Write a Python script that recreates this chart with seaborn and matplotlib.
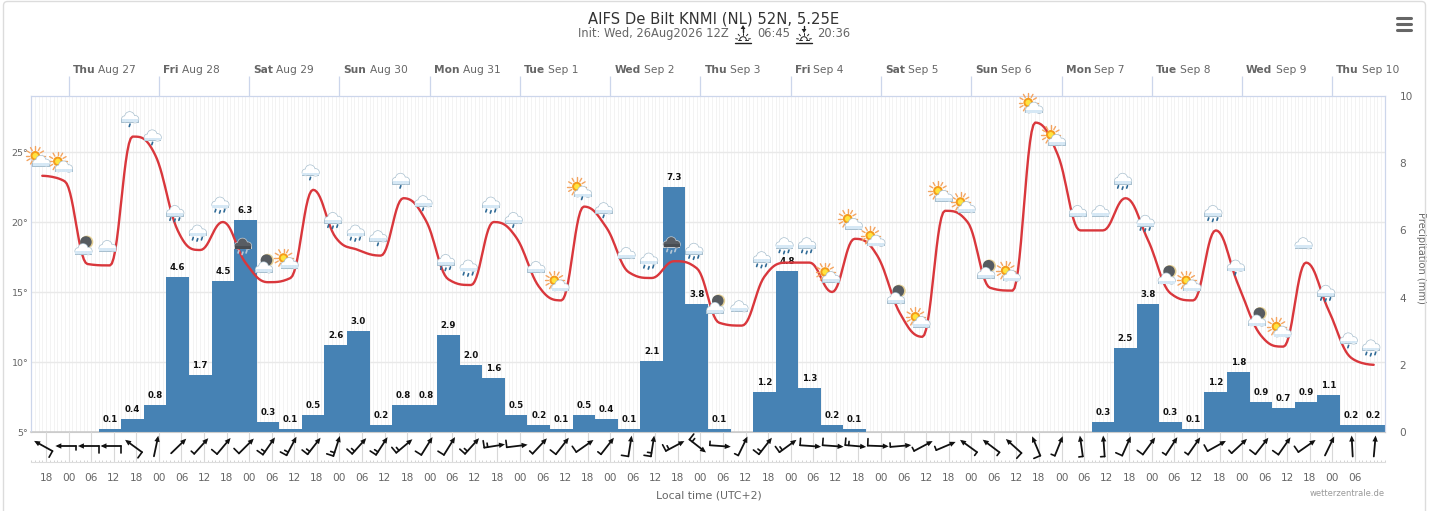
#!/usr/bin/env python3
"""
Meteogram: temperature spline, precipitation bars, sky icons and wind arrows.
"""

import numpy as np
import matplotlib
matplotlib.use("Agg")
import matplotlib.pyplot as plt
import seaborn as sns
from matplotlib.patches import Circle, FancyBboxPatch, Polygon, Rectangle, Wedge
from matplotlib.transforms import IdentityTransform

WIDTH, HEIGHT = 1433, 511

# hours since Aug 26 00:00 local time
hours = list(range(17, 372, 6))

temperature = [
    23.3, 22.9, 17.0, 16.9, 26.1, 24.8, 19.4, 18.0, 20.0, 17.1,
    15.7, 16.0, 22.3, 18.9, 18.0, 17.6, 21.7, 20.1, 15.9, 15.5,
    20.0, 18.9, 15.4, 14.4, 21.1, 19.6, 16.4, 16.0, 17.2, 16.7,
    12.8, 12.6, 16.1, 17.1, 17.1, 15.0, 18.8, 17.6, 13.5, 11.8,
    20.8, 20.0, 15.3, 15.1, 27.1, 24.8, 19.4, 19.4, 21.7, 18.7,
    14.9, 14.4, 19.4, 15.5, 11.9, 11.1, 17.1, 13.7, 10.3, 9.8,
]

precipitation = [
    0, 0, 0, 0.1, 0.4, 0.8, 4.6, 1.7, 4.5, 6.3,
    0.3, 0.1, 0.5, 2.6, 3.0, 0.2, 0.8, 0.8, 2.9, 2.0,
    1.6, 0.5, 0.2, 0.1, 0.5, 0.4, 0.1, 2.1, 7.3, 3.8,
    0.1, 0, 1.2, 4.8, 1.3, 0.2, 0.1, 0, 0, 0,
    0, 0, 0, 0, 0, 0, 0, 0.3, 2.5, 3.8,
    0.3, 0.1, 1.2, 1.8, 0.9, 0.7, 0.9, 1.1, 0.2, 0.2,
]

sky = [
    "sun", "sun", "moon", "cloud", "drizzle", "drizzle", "rain", "rain", "rain", "storm",
    "moon", "sun", "drizzle", "rain", "rain", "drizzle", "drizzle", "drizzle", "rain", "rain",
    "rain", "drizzle", "cloud", "sun", "sunrain", "drizzle", "cloud", "rain", "storm", "rain",
    "moon", "cloud", "rain", "rain", "rain", "sun", "sun", "sun", "moon", "sun",
    "sun", "sun", "moon", "sun", "sun", "sun", "cloud", "cloud", "rain", "rain",
    "moon", "sun", "rain", "drizzle", "moon", "sun", "cloud", "rain", "drizzle", "rain",
]

# direction the arrow points, degrees clockwise from north
wind_heading = [
    299, 270, 270, 270, 306, 12, 46, 42, 40, 45,
    35, 28, 38, 18, 42, 33, 50, 32, 32, 42,
    81, 83, 43, 38, 55, 38, 9, 9, 62, 128,
    94, 26, 38, 54, 94, 94, 95, 92, 85, 62,
    67, 306, 307, 312, 337, 22, 352, 356, 24, 36,
    33, 35, 61, 47, 38, 35, 55, 26, 357, 5,
]

# 0 none, 1 short, 2 long, 3 long + short, 4 two long
wind_feathers = [
    2, 1, 2, 2, 2, 0, 0, 1, 2, 2,
    3, 3, 3, 3, 3, 3, 3, 2, 2, 3,
    3, 2, 1, 2, 2, 1, 2, 3, 3, 3,
    1, 1, 3, 3, 2, 2, 3, 2, 1, 1,
    1, 1, 1, 2, 2, 1, 1, 1, 2, 2,
    1, 1, 2, 1, 2, 2, 2, 0, 0, 0,
]

day_names = ["Thu", "Fri", "Sat", "Sun", "Mon", "Tue", "Wed", "Thu", "Fri", "Sat", "Sun", "Mon", "Tue", "Wed", "Thu"]
day_dates = ["Aug 27", "Aug 28", "Aug 29", "Aug 30", "Aug 31", "Sep 1", "Sep 2", "Sep 3", "Sep 4",
             "Sep 5", "Sep 6", "Sep 7", "Sep 8", "Sep 9", "Sep 10"]
temp_ticks = [5, 10, 15, 20, 25]
precip_ticks = [0, 2, 4, 6, 8, 10]

TEXT_GREY = "#666666"
GRID = "#e9e9e9"
AXIS = "#ccd6eb"
BAR_BLUE = "#4682b4"
LINE_RED = "#d9373c"


def spline_curve(xs, ys, steps=14):
    """Bezier spline through the points, same control points as a Highcharts spline."""
    n = len(xs)
    left, right = [None] * n, [None] * n
    for i in range(n):
        if i == 0 or i == n - 1:
            left[i] = right[i] = (xs[i], ys[i])
            continue
        lx, ly = (1.5 * xs[i] + xs[i - 1]) / 2.5, (1.5 * ys[i] + ys[i - 1]) / 2.5
        rx, ry = (1.5 * xs[i] + xs[i + 1]) / 2.5, (1.5 * ys[i] + ys[i + 1]) / 2.5
        correction = (ry - ly) * (rx - xs[i]) / (rx - lx) + ys[i] - ry
        ly += correction
        ry += correction
        # keep the curve from overshooting its neighbours
        if ly > ys[i - 1] and ly > ys[i]:
            ly = max(ys[i - 1], ys[i])
            ry = 2 * ys[i] - ly
        elif ly < ys[i - 1] and ly < ys[i]:
            ly = min(ys[i - 1], ys[i])
            ry = 2 * ys[i] - ly
        if ry > ys[i + 1] and ry > ys[i]:
            ry = max(ys[i + 1], ys[i])
            ly = 2 * ys[i] - ry
        elif ry < ys[i + 1] and ry < ys[i]:
            ry = min(ys[i + 1], ys[i])
            ly = 2 * ys[i] - ry
        left[i], right[i] = (lx, ly), (rx, ry)

    out_x, out_y = [], []
    t = np.linspace(0, 1, steps, endpoint=False)
    for i in range(n - 1):
        p0, p1, p2, p3 = (xs[i], ys[i]), right[i], left[i + 1], (xs[i + 1], ys[i + 1])
        for axis, out in ((0, out_x), (1, out_y)):
            out.extend((1 - t) ** 3 * p0[axis] + 3 * (1 - t) ** 2 * t * p1[axis]
                       + 3 * (1 - t) * t ** 2 * p2[axis] + t ** 3 * p3[axis])
    out_x.append(xs[-1])
    out_y.append(ys[-1])
    return out_x, out_y


def px_circle(ax, x, y, r, color, z=6):
    ax.add_patch(Circle((x, y), r, facecolor=color, edgecolor="none",
                        transform=IdentityTransform(), clip_on=False, zorder=z))


def px_line(ax, xs, ys, color, lw, z=6):
    ax.plot(xs, ys, color=color, lw=lw, transform=IdentityTransform(), clip_on=False,
            zorder=z, solid_capstyle="round", scalex=False, scaley=False)


def draw_cloud(ax, x, y, scale=1.0, fill="white", edge="#a9c0cf", base="#d6e8f5", z=6.2):
    bumps = [(-5.2, -1.6, 3.0), (-0.4, 1.0, 4.6), (5.0, -1.6, 3.4)]
    for dx, dy, r in bumps:
        px_circle(ax, x + dx * scale, y + dy * scale, (r + 0.7) * scale, edge, z)
    ax.add_patch(Rectangle((x - 8.8 * scale, y - 5.3 * scale), 17.6 * scale, 3.6 * scale, facecolor=edge,
                           edgecolor="none", transform=IdentityTransform(), clip_on=False, zorder=z))
    for dx, dy, r in bumps:
        px_circle(ax, x + dx * scale, y + dy * scale, r * scale, fill, z + 0.01)
    ax.add_patch(Rectangle((x - 8.1 * scale, y - 4.6 * scale), 16.2 * scale, 2.9 * scale, facecolor=base,
                           edgecolor="none", transform=IdentityTransform(), clip_on=False, zorder=z + 0.02))


def draw_drops(ax, x, y, spots, color="#2f6a96"):
    for dx, dy in spots:
        px_line(ax, [x + dx, x + dx - 0.8], [y + dy, y + dy - 2.4], color, 1.2, 6.3)


def draw_sun(ax, x, y):
    for angle in np.arange(0, 360, 30):
        c, s = np.cos(np.radians(angle)), np.sin(np.radians(angle))
        px_line(ax, [x + 6 * c, x + 9.5 * c], [y + 6 * s, y + 9.5 * s], "#f4a460", 1.0, 6.0)
    px_circle(ax, x, y, 4.8, "#f49b1c", 6.05)
    px_circle(ax, x, y, 2.8, "#ffe33f", 6.06)


def draw_moon(ax, x, y):
    px_circle(ax, x, y, 6.4, "#e4cf93", 6.0)
    px_circle(ax, x - 1.0, y, 5.8, "#565b60", 6.01)


def draw_icon(ax, kind, x, y):
    """Sky symbol in pixels, x, y is the middle of the tile."""
    if kind in ("sun", "sunrain"):
        draw_sun(ax, x - 4.5, y + 2)
        draw_cloud(ax, x + 1.5, y - 3.5)
        if kind == "sunrain":
            draw_drops(ax, x + 1, y - 8.5, [(0, 0)])
    elif kind == "moon":
        draw_moon(ax, x + 2, y + 4)
        draw_cloud(ax, x - 1.5, y - 3.5)
    elif kind == "storm":
        draw_cloud(ax, x, y + 0.5, fill="#585d63", edge="#c5ccd2", base="#484d52")
        draw_drops(ax, x, y - 6, [(-4, 0), (0, -1.5), (4, 0)], color="#b8c8d6")
    else:
        draw_cloud(ax, x, y + 1)
        if kind == "drizzle":
            draw_drops(ax, x, y - 5.5, [(0, 0)])
        elif kind == "rain":
            draw_drops(ax, x, y - 5.5, [(-4.5, 0), (0, -1.2), (4.5, 0)])


def draw_wind(ax, x, y, heading, feathers, length=21):
    ux, uy = np.sin(np.radians(heading)), np.cos(np.radians(heading))
    tail = (x - ux * length / 2, y - uy * length / 2)
    tip = (x + ux * length / 2, y + uy * length / 2)
    px_line(ax, [tail[0], tip[0] - ux * 3], [tail[1], tip[1] - uy * 3], "#111111", 1.3, 5)
    ax.add_patch(Polygon([tip,
                          (tip[0] - ux * 6 - uy * 2.7, tip[1] - uy * 6 + ux * 2.7),
                          (tip[0] - ux * 6 + uy * 2.7, tip[1] - uy * 6 - ux * 2.7)],
                         facecolor="#111111", edgecolor="none", transform=IdentityTransform(),
                         clip_on=False, zorder=5))
    sizes = {0: [], 1: [4.0], 2: [7.0], 3: [7.0, 4.0], 4: [7.0, 7.0]}[feathers]
    for k, size in enumerate(sizes):
        bx, by = tail[0] + ux * 3.5 * k, tail[1] + uy * 3.5 * k
        px_line(ax, [bx, bx - uy * size], [by, by + ux * size], "#111111", 1.2, 5)


def draw_sun_mark(fig_ax, x, y, rising):
    """Little sunrise / sunset sign next to the times, y is the underline in image pixels."""
    base = HEIGHT - y
    ink = "#222222"
    px_line(fig_ax, [x - 8, x + 8], [base, base], ink, 1.0)
    px_line(fig_ax, [x - 5, -2 + x], [base + 3, base + 3], ink, 0.7)
    px_line(fig_ax, [x + 2, x + 5], [base + 3, base + 3], ink, 0.7)
    for angle in (10, 50, 90, 130, 170):
        c, s = np.cos(np.radians(angle)), np.sin(np.radians(angle))
        px_line(fig_ax, [x + 5.5 * c, x + 7.5 * c], [base + 3 + 5.5 * s, base + 3 + 7.5 * s], ink, 0.7)
    fig_ax.add_patch(Wedge((x, base + 3), 3.8, 0, 180, width=1.0, facecolor=ink, edgecolor="none",
                           transform=IdentityTransform(), clip_on=False))
    top, bottom = base + 17, base + 11
    if rising:
        px_line(fig_ax, [x, x], [bottom, top - 2], ink, 1.0)
        fig_ax.add_patch(Polygon([(x, top + 1), (x - 2.4, top - 3), (x + 2.4, top - 3)], facecolor=ink,
                                 edgecolor="none", transform=IdentityTransform(), clip_on=False))
    else:
        px_line(fig_ax, [x, x], [top, bottom + 2], ink, 1.0)
        fig_ax.add_patch(Polygon([(x, bottom - 1), (x - 2.4, bottom + 3), (x + 2.4, bottom + 3)], facecolor=ink,
                                 edgecolor="none", transform=IdentityTransform(), clip_on=False))


def main():
    sns.set_theme(style="white")
    plt.rcParams["font.family"] = "DejaVu Sans"

    fig = plt.figure(figsize=(WIDTH / 100, HEIGHT / 100), dpi=100)

    # plot frame is x 31..1385, y 96..432 in image pixels
    rect = [31 / WIDTH, (HEIGHT - 432) / HEIGHT, 1354 / WIDTH, 336 / HEIGHT]
    ax_prec = fig.add_axes(rect)
    ax_temp = ax_prec.twinx()
    ax_temp.yaxis.tick_left()
    ax_wind = fig.add_axes([rect[0], (HEIGHT - 462) / HEIGHT, rect[2], 30 / HEIGHT])
    overlay = fig.add_axes([0, 0, 1, 1], zorder=10)
    overlay.axis("off")
    overlay.set_xlim(0, WIDTH)
    overlay.set_ylim(0, HEIGHT)

    sns.barplot(x=hours, y=precipitation, native_scale=True, width=1, color=BAR_BLUE,
                saturation=1, linewidth=0, edgecolor="none", ax=ax_prec, zorder=3)
    ax_prec.bar_label(ax_prec.containers[0], labels=[f"{v:.1f}" if v > 0 else "" for v in precipitation],
                      padding=3.6, fontsize=6.2, fontweight="bold", color="#111111", zorder=4)

    curve_x, curve_y = spline_curve(hours, temperature)
    sns.lineplot(x=curve_x, y=curve_y, color=LINE_RED, linewidth=1.7, estimator=None, sort=False,
                 ax=ax_temp, zorder=5)

    x_min, x_max = 14, 374
    ax_prec.set_xlim(x_min, x_max)
    ax_prec.set_ylim(0, 10)
    ax_temp.set_ylim(5, 29)
    ax_wind.set_xlim(x_min, x_max)
    ax_wind.set_ylim(0, 30)

    # hourly and daily grid, horizontal lines follow the temperature scale
    day_ticks = np.arange(24, 370, 24)
    ax_prec.set_xticks(day_ticks)
    ax_prec.set_xticks(np.arange(x_min, x_max + 1), minor=True)
    ax_prec.set_xticklabels([])
    ax_prec.set_xlabel("")
    ax_prec.set_ylabel("")
    ax_prec.tick_params(axis="x", which="both", length=0)
    ax_prec.grid(True, axis="x", which="major", color="#dfe3e8", lw=0.8, zorder=0)
    ax_prec.grid(True, axis="x", which="minor", color="#f1f1f1", lw=0.6, zorder=0)
    ax_prec.set_axisbelow(True)
    ax_prec.set_yticks([(t - 5) * 10 / 24 for t in temp_ticks[1:]], minor=True)
    ax_prec.grid(True, axis="y", which="minor", color=GRID, lw=1.0, zorder=0)
    ax_prec.tick_params(axis="y", which="minor", length=0)
    ax_prec.vlines(day_ticks, 1, 1 + 20 / 336, transform=ax_prec.get_xaxis_transform(), clip_on=False,
                   color=AXIS, lw=0.9)

    ax_prec.yaxis.tick_right()
    ax_prec.set_yticks(precip_ticks)
    ax_prec.set_yticklabels([str(v) for v in precip_ticks])
    ax_prec.tick_params(axis="y", which="major", length=0, pad=10.5, labelsize=7.6, labelcolor=TEXT_GREY)
    for label in ax_prec.get_yticklabels():
        label.set_ha("left")

    ax_temp.set_yticks(temp_ticks)
    ax_temp.set_yticklabels([f"{t}°" for t in temp_ticks])
    ax_temp.tick_params(axis="y", length=0, pad=2, labelsize=6.8, labelcolor=TEXT_GREY)
    ax_temp.set_xticks([])
    ax_temp.set_ylabel("")
    ax_temp.patch.set_visible(False)
    for axis in (ax_prec, ax_temp):
        for spine in axis.spines.values():
            spine.set_color(AXIS)
            spine.set_linewidth(0.8)
    ax_prec.spines["bottom"].set_color("#cccccc")
    ax_temp.spines["bottom"].set_color("#cccccc")
    ax_prec.spines["bottom"].set_linewidth(1.2)

    # wind strip with the time axis underneath
    time_ticks = np.arange(18, 367, 6)
    ax_wind.set_xticks(time_ticks)
    ax_wind.set_xticklabels([f"{h % 24:02d}" for h in time_ticks])
    ax_wind.set_xticks(np.arange(x_min, x_max + 1), minor=True)
    ax_wind.set_yticks([])
    ax_wind.grid(True, axis="x", which="major", color="#d8d8d8", lw=0.8)
    ax_wind.tick_params(axis="x", which="major", length=0, pad=8, labelsize=7.6, labelcolor=TEXT_GREY)
    ax_wind.tick_params(axis="x", which="minor", length=1.6, width=0.6, color="#cccccc", direction="in", bottom=True)
    for name, spine in ax_wind.spines.items():
        spine.set_visible(name == "bottom")
    ax_wind.spines["bottom"].set_color("#dddddd")
    ax_wind.spines["bottom"].set_linewidth(0.8)
    ax_wind.patch.set_visible(False)

    # day labels over the plot
    for hour, name, date in zip(day_ticks, day_names, day_dates):
        bold = ax_prec.annotate(name, xy=(hour, 1), xycoords=("data", "axes fraction"), xytext=(2.9, 15.2),
                                textcoords="offset points", fontsize=7.7, fontweight="bold",
                                color=TEXT_GREY, va="bottom", annotation_clip=False)
        ax_prec.annotate(date, xy=(1, 0), xycoords=bold, xytext=(2.3, 0), textcoords="offset points",
                         fontsize=7.7, color=TEXT_GREY, va="bottom", annotation_clip=False)

    # icons and wind arrows are pixel sized, placed from the data positions
    for hour, temp, kind in zip(hours, temperature, sky):
        x_px, y_px = ax_temp.transData.transform((hour, temp))
        draw_icon(ax_temp, kind, x_px - 2.5, y_px + 18)
    for hour, heading, feathers in zip(hours, wind_heading, wind_feathers):
        x_px, _ = ax_wind.transData.transform((hour, 0))
        draw_wind(ax_wind, x_px + 1, HEIGHT - 446, heading, feathers)

    fig.text(714 / WIDTH, 1 - 19 / HEIGHT, "AIFS De Bilt KNMI (NL) 52N, 5.25E", ha="center", va="center",
             fontsize=10.6, color="#333333")
    for x, label, size in ((578, "Init: Wed, 26Aug2026 12Z", 8.3), (757, "06:45", 8.3), (817, "20:36", 8.3)):
        fig.text(x / WIDTH, 1 - 33.5 / HEIGHT, label, ha="left", va="center", fontsize=size, color=TEXT_GREY)
    draw_sun_mark(overlay, 743, 43, True)
    draw_sun_mark(overlay, 804, 43, False)

    fig.text(709 / WIDTH, 1 - 496 / HEIGHT, "Local time (UTC+2)", ha="center", va="center",
             fontsize=7.8, color=TEXT_GREY)
    fig.text(1385 / WIDTH, 1 - 493 / HEIGHT, "wetterzentrale.de", ha="right", va="center",
             fontsize=6, color="#999999")
    fig.text(1421 / WIDTH, 1 - 258 / HEIGHT, "Precipitation (mm)", rotation=270, ha="center", va="center",
             fontsize=7.1, color=TEXT_GREY)

    # menu button and chart border
    for y in (18, 24, 29.5):
        px_line(overlay, [1397, 1411], [HEIGHT - y, HEIGHT - y], "#666666", 2.2)
    overlay.add_patch(FancyBboxPatch((3.5, -20), 1422, HEIGHT + 18.5, boxstyle="round,pad=0,rounding_size=4",
                                     facecolor="none", edgecolor="#dcdcdc", lw=1.0,
                                     transform=IdentityTransform(), clip_on=True))

    fig.savefig("out.png", dpi=100)
    plt.close(fig)


if __name__ == "__main__":
    main()
